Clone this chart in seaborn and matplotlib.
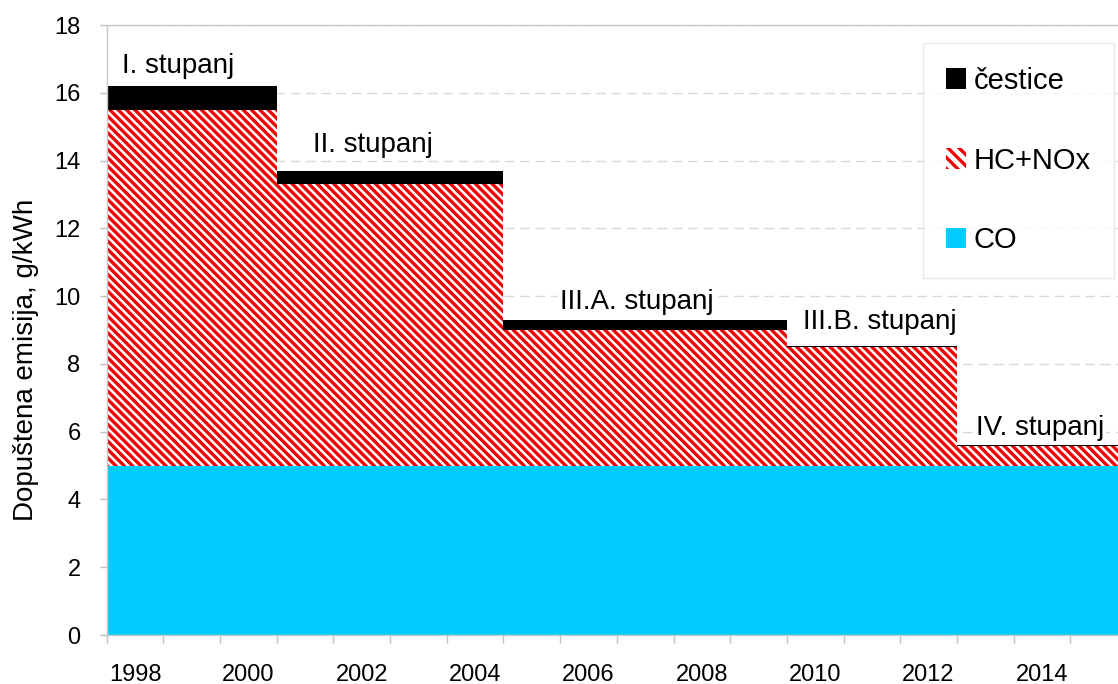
import matplotlib
matplotlib.use("Agg")
import matplotlib.pyplot as plt
import seaborn as sns
import pandas as pd
import numpy as np
from matplotlib.patches import Patch

# ---- data ----
stage_names = ["I. stupanj", "II. stupanj", "III.A. stupanj", "III.B. stupanj", "IV. stupanj"]
stage_first_year = [1998, 2001, 2005, 2010, 2013]
stage_last_year = [2000, 2004, 2009, 2012, 2015]
co_vals = [5.0, 5.0, 5.0, 5.0, 5.0]
hc_nox_vals = [10.5, 8.3, 4.0, 3.49, 0.59]
cestice_vals = [0.7, 0.4, 0.3, 0.025, 0.025]
tick_years = [1998, 2000, 2002, 2004, 2006, 2008, 2010, 2012, 2014]

# per-year table built from stage values
rows = []
for i in range(len(stage_names)):
    for y in range(stage_first_year[i], stage_last_year[i] + 1):
        rows.append({"year": str(y), "CO": co_vals[i], "HC+NOx": hc_nox_vals[i],
                     "cestice": cestice_vals[i]})
df = pd.DataFrame(rows)
df["lvl2"] = df["CO"] + df["HC+NOx"]
df["lvl3"] = df["lvl2"] + df["cestice"]
order = list(df["year"])

CO_COLOR = "#00CCFF"
RED = "#F00000"
HATCH = "\\\\\\\\"

sns.set_theme(style="white")
plt.rcParams["font.family"] = ["Liberation Sans", "DejaVu Sans"]
plt.rcParams["hatch.linewidth"] = 2.4

W, H = 1118, 684
fig = plt.figure(figsize=(W / 100, H / 100), dpi=100)
x0, x1 = 106.7, 1127.0
y0, y1 = 635.0, 25.0
ax = fig.add_axes([x0 / W, (H - y0) / H, (x1 - x0) / W, (y0 - y1) / H])

# stacked via cumulative overlays
sns.barplot(data=df, x="year", y="lvl3", order=order, color="black", saturation=1,
            width=1.0, linewidth=0, errorbar=None, ax=ax)
sns.barplot(data=df, x="year", y="lvl2", order=order, color="white", saturation=1,
            width=1.0, linewidth=0, edgecolor=RED, hatch=HATCH, errorbar=None, ax=ax)
sns.barplot(data=df, x="year", y="CO", order=order, color=CO_COLOR, saturation=1,
            width=1.0, linewidth=0, errorbar=None, ax=ax)

ax.set_xlim(-0.5, len(order) - 0.5)
ax.set_ylim(0, 18)
ax.set_xlabel("")
ax.set_ylabel("Dopuštena emisija, g/kWh", fontsize=20, color="#000000")
ax.yaxis.label.set_va("center")
ax.yaxis.label.set_ha("center")
ax.yaxis.set_label_coords((26 - x0) / (x1 - x0), (y0 - 360) / (y0 - y1))

# ticks
ax.set_xticks([order.index(str(t)) for t in tick_years])
ax.set_xticklabels([str(t) for t in tick_years], fontsize=17, color="#000000")
ax.set_xticks(np.arange(-0.5, len(order), 1.0), minor=True)
ax.tick_params(axis="x", which="major", length=0, pad=21)
ax.tick_params(axis="x", which="minor", length=5.8, width=1, color="#BFBFBF", bottom=True)
ax.set_yticks(range(0, 19, 2))
ax.set_yticklabels([str(v) for v in range(0, 19, 2)], fontsize=17, color="#000000")
ax.tick_params(axis="y", which="major", length=4.8, width=1, color="#BFBFBF", pad=14,
               left=True)

ax.set_axisbelow(True)
ax.yaxis.grid(True, linestyle=(0, (7, 4)), color="#D9D9D9", linewidth=1)
ax.xaxis.grid(False)
for s in ["left", "bottom", "top"]:
    ax.spines[s].set_visible(True)
    ax.spines[s].set_color("#C8C8C8")
    ax.spines[s].set_linewidth(1)
ax.spines["right"].set_visible(False)

# stage labels
lab_x_off = [0.265, 0.64, 0.99, 0.29, 0.34]
lab_y = [16.57, 14.26, 9.61, 9.04, 5.90]
for i, name in enumerate(stage_names):
    xi = order.index(str(stage_first_year[i])) - 0.5 + lab_x_off[i]
    ax.text(xi, lab_y[i], name, fontsize=20, ha="left", va="baseline", color="#000000",
            bbox=dict(facecolor="white", edgecolor="none", pad=1.5), zorder=5)

# legend
handles = [Patch(facecolor="black", edgecolor="black", linewidth=0),
           Patch(facecolor="white", edgecolor=RED, hatch="\\\\\\", linewidth=0),
           Patch(facecolor=CO_COLOR, edgecolor=CO_COLOR, linewidth=0)]
labels = ["čestice", "HC+NOx", "CO"]
leg = fig.legend(handles, labels, loc="upper left",
                 bbox_to_anchor=(922.7 / W, 1 - 43.3 / H), bbox_transform=fig.transFigure,
                 fontsize=21, handlelength=0.7, handleheight=0.7, handletextpad=0.25,
                 labelspacing=1.78, borderpad=0.8, frameon=True, fancybox=False,
                 borderaxespad=0)
leg.get_frame().set_edgecolor("#E3E3E3")
leg.get_frame().set_linewidth(1)
for t in leg.get_texts():
    t.set_color("#000000")

fig.savefig("out.png", dpi=100)
